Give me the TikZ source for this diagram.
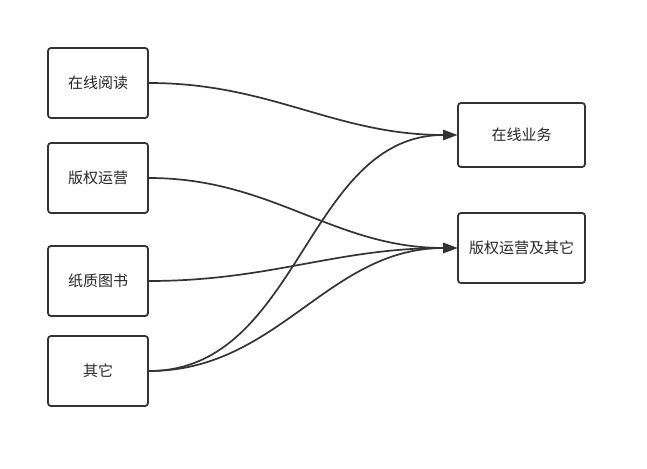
\documentclass[tikz,border=0pt]{standalone}
\usepackage{fontspec}
\setmainfont{Noto Sans CJK SC}
\usetikzlibrary{arrows.meta}

\begin{document}
\begin{tikzpicture}[x=1pt,y=-1pt]
  \useasboundingbox (0,0) rectangle (647,468);
  \tikzstyle{every node}=[rectangle,draw=black!80,line width=1.8pt,rounded corners=3pt,
                          font=\fontsize{15}{17}\selectfont,text=black!85]
  \node[minimum width=100pt,minimum height=70pt] (zxyd) at (98,83)  {在线阅读};
  \node[minimum width=100pt,minimum height=70pt] (bqyy) at (98,178) {版权运营};
  \node[minimum width=100pt,minimum height=70pt] (zztb) at (98,281) {纸质图书};
  \node[minimum width=100pt,minimum height=70pt] (qt)   at (98,371) {其它};
  \node[minimum width=127pt,minimum height=64pt] (zxyw)   at (521.5,135) {在线业务};
  \node[minimum width=127pt,minimum height=70pt] (bqyyqt) at (521.5,248) {版权运营及其它};

%% draw connections
  \tikzstyle{every path}=[draw=black!80,line width=1.7pt,-{Triangle[length=14pt,width=10pt]}]
  \foreach \src/\dst in {zxyd/zxyw, bqyy/bqyyqt, zztb/bqyyqt, qt/zxyw, qt/bqyyqt}
    \draw (\src.east) to[out=0,in=180] (\dst.west);
\end{tikzpicture}
\end{document}
